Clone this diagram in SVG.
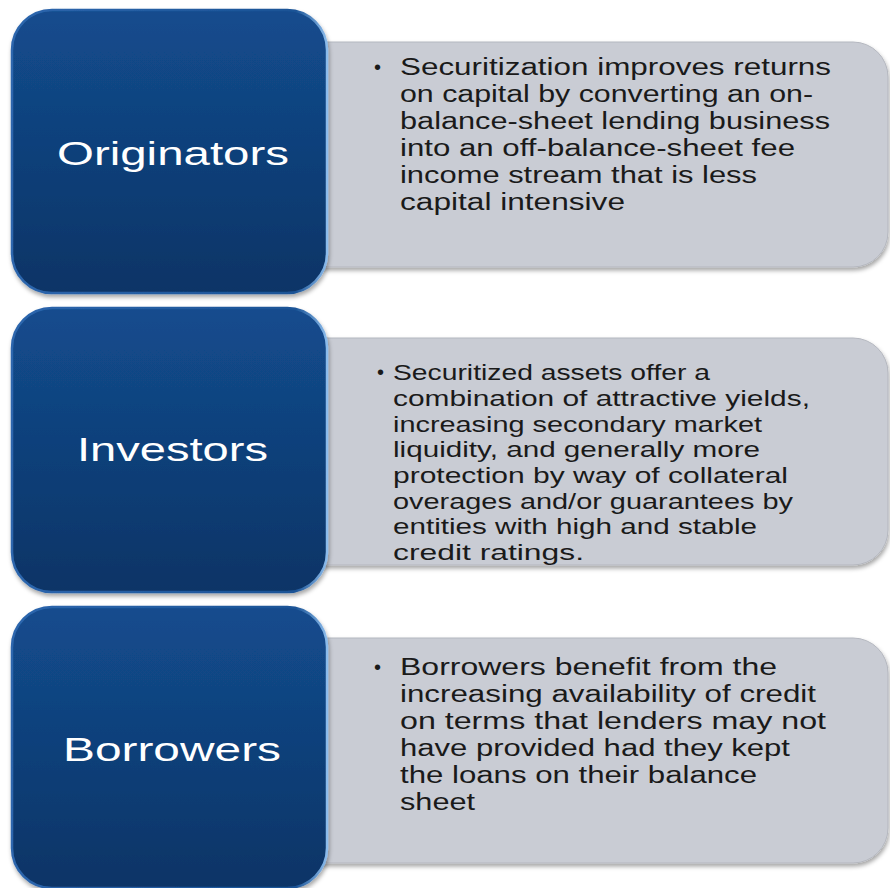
<svg xmlns="http://www.w3.org/2000/svg" width="890" height="888" viewBox="0 0 890 888">
<defs>
<linearGradient id="blue" x1="0" y1="0" x2="0" y2="1">
<stop offset="0" stop-color="#134c8e"/>
<stop offset="1" stop-color="#0c3466"/>
</linearGradient>
<linearGradient id="edge" x1="0" y1="0" x2="1" y2="0">
<stop offset="0" stop-color="#2d66ad"/>
<stop offset="0.9" stop-color="#1a5396"/>
<stop offset="1" stop-color="#8cbcec"/>
</linearGradient>
<filter id="sh" x="-5%" y="-5%" width="115%" height="120%">
<feDropShadow dx="1" dy="3" stdDeviation="2" flood-color="#000" flood-opacity="0.35"/>
</filter>
</defs>
<style>
.card{fill:#c9ccd4;stroke:#b4b7bf;stroke-width:1;filter:url(#sh)}
.node{fill:url(#blue);stroke:url(#edge);stroke-width:2.5;filter:url(#sh)}
.lbl{font-family:"Liberation Sans","Open Sans",sans-serif;font-size:34px;fill:#ffffff}
.txt{font-family:"Liberation Sans","Open Sans",sans-serif;font-size:23px;fill:#1a1a1a}
.txt2{font-family:"Liberation Sans","Open Sans",sans-serif;font-size:22px;fill:#1a1a1a}
.bul{font-family:"Liberation Sans","Open Sans",sans-serif;font-size:20px;fill:#1a1a1a}
</style>
<rect width="890" height="888" fill="#ffffff"/>

<g id="originators-desc">
<path class="card" d="M300 42 H853 A35 35 0 0 1 888 77 V232 A35 35 0 0 1 853 267 H300 Z"/>
<text class="bul" x="374" y="74">•</text>
<text class="txt" x="400" y="75" textLength="431" lengthAdjust="spacingAndGlyphs">Securitization improves returns</text>
<text class="txt" x="400" y="102" textLength="413" lengthAdjust="spacingAndGlyphs">on capital by converting an on-</text>
<text class="txt" x="400" y="129" textLength="430" lengthAdjust="spacingAndGlyphs">balance-sheet  lending business</text>
<text class="txt" x="400" y="156" textLength="395" lengthAdjust="spacingAndGlyphs">into an off-balance-sheet  fee</text>
<text class="txt" x="400" y="183" textLength="357" lengthAdjust="spacingAndGlyphs">income stream that is less</text>
<text class="txt" x="400" y="210" textLength="225" lengthAdjust="spacingAndGlyphs">capital intensive</text>
</g>

<g id="investors-desc">
<path class="card" d="M300 338 H853 A35 35 0 0 1 888 373 V530 A35 35 0 0 1 853 565 H300 Z"/>
<text class="bul" x="377" y="379">•</text>
<text class="txt2" x="393" y="380" textLength="317" lengthAdjust="spacingAndGlyphs">Securitized assets offer a</text>
<text class="txt2" x="393" y="406" textLength="417" lengthAdjust="spacingAndGlyphs">combination of attractive yields,</text>
<text class="txt2" x="393" y="432" textLength="369" lengthAdjust="spacingAndGlyphs">increasing secondary market</text>
<text class="txt2" x="393" y="457" textLength="367" lengthAdjust="spacingAndGlyphs">liquidity, and generally more</text>
<text class="txt2" x="393" y="483" textLength="395" lengthAdjust="spacingAndGlyphs">protection by way of collateral</text>
<text class="txt2" x="393" y="509" textLength="400" lengthAdjust="spacingAndGlyphs">overages and/or guarantees by</text>
<text class="txt2" x="393" y="534" textLength="364" lengthAdjust="spacingAndGlyphs">entities with high and stable</text>
<text class="txt2" x="393" y="560" textLength="191" lengthAdjust="spacingAndGlyphs">credit ratings.</text>
</g>

<g id="borrowers-desc">
<path class="card" d="M300 638 H853 A35 35 0 0 1 888 673 V828 A35 35 0 0 1 853 863 H300 Z"/>
<text class="bul" x="374" y="674">•</text>
<text class="txt" x="400" y="675" textLength="377" lengthAdjust="spacingAndGlyphs">Borrowers benefit from the</text>
<text class="txt" x="400" y="702" textLength="416" lengthAdjust="spacingAndGlyphs">increasing availability of credit</text>
<text class="txt" x="400" y="729" textLength="426" lengthAdjust="spacingAndGlyphs">on terms that  lenders may not</text>
<text class="txt" x="400" y="756" textLength="390" lengthAdjust="spacingAndGlyphs">have provided had they kept</text>
<text class="txt" x="400" y="783" textLength="357" lengthAdjust="spacingAndGlyphs">the loans on their balance</text>
<text class="txt" x="400" y="810" textLength="75" lengthAdjust="spacingAndGlyphs">sheet</text>
</g>

<g id="originators">
<rect class="node" x="12" y="10" width="315" height="283" rx="40" ry="40"/>
<text class="lbl" x="57" y="165" textLength="232" lengthAdjust="spacingAndGlyphs">Originators</text>
</g>

<g id="investors">
<rect class="node" x="12" y="308" width="315" height="284" rx="40" ry="40"/>
<text class="lbl" x="77" y="461" textLength="191" lengthAdjust="spacingAndGlyphs">Investors</text>
</g>

<g id="borrowers">
<rect class="node" x="12" y="607" width="315" height="281" rx="40" ry="40"/>
<text class="lbl" x="63" y="761" textLength="218" lengthAdjust="spacingAndGlyphs">Borrowers</text>
</g>

<g id="connectors"/>
</svg>
